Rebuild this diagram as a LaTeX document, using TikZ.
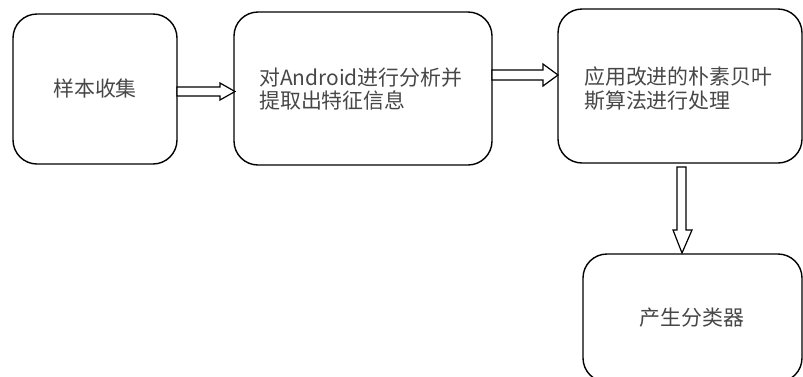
\documentclass[tikz,border=0pt]{standalone}
\usepackage{fontspec}
\newfontfamily\cjk{Noto Sans CJK SC}
\usetikzlibrary{calc}
\begin{document}
\begin{tikzpicture}[x=1bp,y=-1bp,
  box/.style={draw=black,line width=1.4bp,rounded corners=24bp},
  txt/.style={font=\cjk\fontsize{21}{24}\selectfont,align=left,inner sep=0pt,text=black!72},
  hollow/.style={draw=black,line width=1.2bp,fill=white,line join=miter}]
\useasboundingbox (0,0) rectangle (803,376);
% boxes
\draw[box] (13,14) rectangle (177,164);
\draw[box] (234,12) rectangle (492,165);
\draw[box] (558,9) rectangle (802,163);
\draw[box] (583,254) rectangle (802,382);
\node[txt] (t1) at (95,89) {样本收集};
\node[txt,anchor=west] (t2) at (259,89) {对Android进行分析并\\提取出特征信息};
\node[txt,anchor=west] (t3) at (584,89) {应用改进的朴素贝叶\\斯算法进行处理};
\node[txt] (t4) at (692,318) {产生分类器};
% arrows
\draw[hollow] (177,87) -- (220,87) -- (220,83) -- (235,91.5) -- (220,100) -- (220,96) -- (177,96) -- cycle;
\draw[hollow] (492,70) -- (543,70) -- (543,64) -- (558,75) -- (543,86) -- (543,80) -- (492,80) -- cycle;
\draw[hollow] (677,167) -- (686,167) -- (686,230) -- (692,230) -- (682,253) -- (673,230) -- (677,230) -- cycle;
\end{tikzpicture}
\end{document}
